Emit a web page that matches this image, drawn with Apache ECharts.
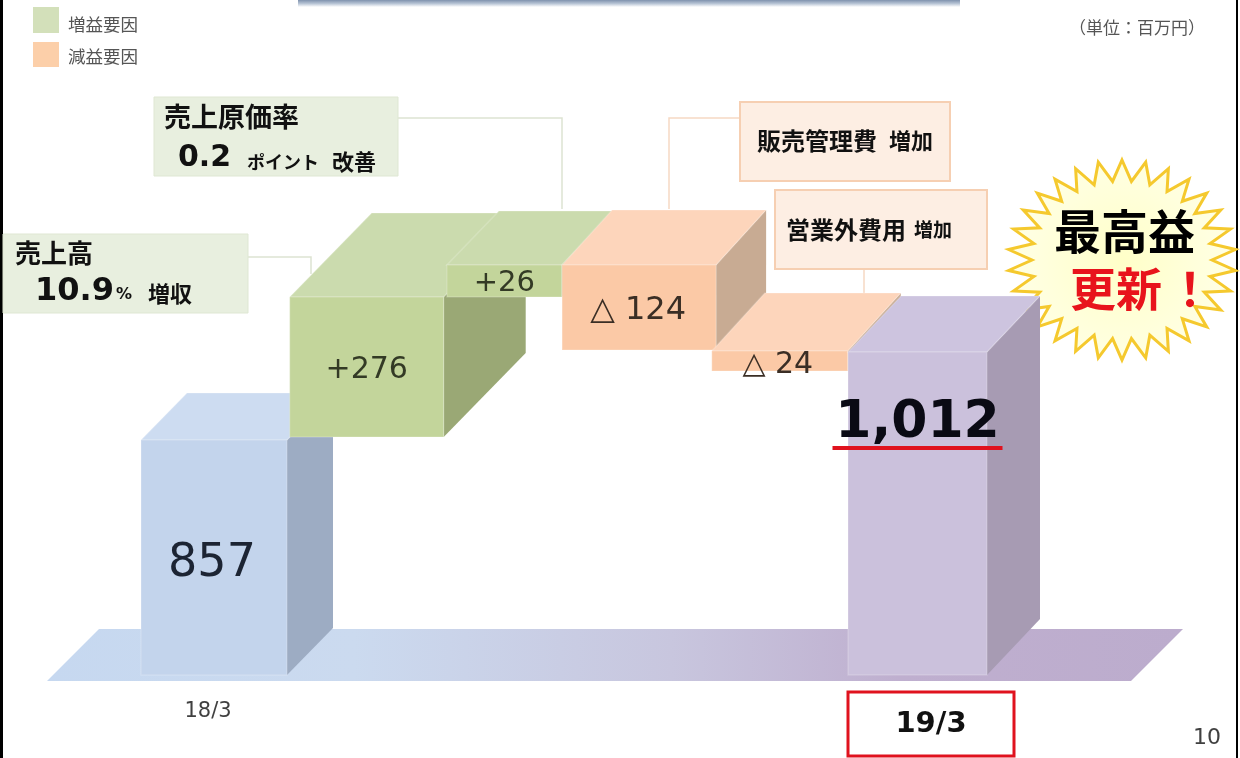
<!DOCTYPE html>
<html><head><meta charset="utf-8">
<style>html,body{margin:0;padding:0;background:#fff}#c{width:1240px;height:758px}</style>
<script src="https://cdn.jsdelivr.net/npm/echarts@6/dist/echarts.min.js"></script>
</head><body><div id="c"></div>
<script>
// ---- data ----
const categories = ['18/3', '売上高', '売上原価率', '販売管理費', '営業外費用', '19/3'];
const barLabels = ['857', '+276', '+26', '△ 124', '△ 24', '1,012'];
// The source slide is a schematic, not to scale: these are the bar extents as drawn, in drawn height units.
const barLow  = [0, 238, 378, 325, 304, 0];
const barHigh = [235, 378, 410, 410, 324, 323];
const kinds = ['start', 'up', 'up', 'down', 'down', 'end'];
const legendNames = ['増益要因', '減益要因'];

// ---- layout & style ----
const JP = '"Noto Sans CJK JP"', LAT = '"DejaVu Sans"';
const shapes = [
  {dx: 0,  w: 146, dpx: 46, dpy: 47, font: 46, weight: 'normal', ldx: -2, ly: 124, color: '#1c2433'},
  {dx: 12, w: 154, dpx: 82, dpy: 84, font: 30, weight: 'normal', ldx: 0,  ly: 73,  color: '#333a25'},
  {dx: 9,  w: 115, dpx: 52, dpy: 54, font: 29, weight: 'normal', ldx: 0,  ly: 18,  color: '#333a25'},
  {dx: 3,  w: 154, dpx: 50, dpy: 55, font: 32, weight: 'normal', ldx: -1, ly: 46,  color: '#3a2e25'},
  {dx: 3,  w: 136, dpx: 53, dpy: 58, font: 30, weight: 'normal', ldx: -2, ly: 14,  color: '#3a2e25'},
  {dx: 0,  w: 139, dpx: 53, dpy: 56, font: 52, weight: 'bold',   ldx: 0,  ly: 71,  color: '#0a0a14'}
];
const palette = {
  start: {front: '#c3d4ec', top: '#cddcf1', side: '#9dacc3'},
  up:    {front: '#c3d59b', top: '#cbdbae', side: '#9aa875'},
  down:  {front: '#fbc9a6', top: '#fdd5bb', side: '#c8ab93'},
  end:   {front: '#cbc1dc', top: '#cdc4df', side: '#a79bb3'}
};
const edge = {stroke: 'rgba(255,255,255,0.18)', lineWidth: 1.5};

function renderBar(params, api) {
  const i = api.value(0), s = shapes[i], c = palette[kinds[i]];
  const cx = api.coord([i, 0])[0] + s.dx;
  const yLow = api.coord([i, api.value(1)])[1], yHigh = api.coord([i, api.value(2)])[1];
  const l = cx - s.w / 2, r = cx + s.w / 2;
  const children = [
    {type: 'polygon', shape: {points: [[r, yHigh], [r + s.dpx, yHigh - s.dpy], [r + s.dpx, yLow - s.dpy], [r, yLow]]}, style: {fill: c.side}},
    {type: 'polygon', shape: {points: [[l, yHigh], [l + s.dpx, yHigh - s.dpy], [r + s.dpx, yHigh - s.dpy], [r, yHigh]]}, style: {fill: c.top, ...edge}},
    {type: 'rect', shape: {x: l, y: yHigh, width: s.w, height: yLow - yHigh}, style: {fill: c.front, ...edge}},
    {type: 'text', z2: 5, style: {x: cx + s.ldx, y: yHigh + s.ly, text: barLabels[i], align: 'center', verticalAlign: 'middle',
      font: s.weight + ' ' + s.font + 'px ' + LAT, fill: s.color}}
  ];
  if (i === 5) children.push({type: 'rect', z2: 6, shape: {x: cx - 85, y: yHigh + 94, width: 170, height: 4}, style: {fill: '#e0121e'}});
  return {type: 'group', children};
}
function renderFloor(params, api) {
  const y0 = api.coord([0, 0])[1];
  const front = y0 + 6, back = y0 - 46;
  return {type: 'polygon', shape: {points: [[47, front], [99, back], [1183, back], [1131, front]]},
    style: {fill: {type: 'linear', x: 0, y: 0, x2: 1, y2: 0, colorStops: [
      {offset: 0, color: '#c6d8f0'}, {offset: 0.27, color: '#cbdaef'}, {offset: 0.55, color: '#c8c6de'}, {offset: 0.75, color: '#bfafcf'}, {offset: 1, color: '#bcaccd'}]}}};
}

// ---- annotation helpers ----
const txt = (x, y, text, font, fill, align) => ({type: 'text', x, y, style: {text, font, fill: fill || '#111', align: align || 'left', verticalAlign: 'middle'}});
const box = (x, y, w, h, fill, stroke, lw) => ({type: 'rect', shape: {x, y, width: w, height: h}, style: {fill, stroke: stroke || null, lineWidth: lw || 0}});
const conn = (pts, stroke) => ({type: 'polyline', shape: {points: pts}, style: {stroke, lineWidth: 1.5, fill: null}});
function star(cx, cy, rx, ry, n, inner) {
  const pts = [];
  for (let k = 0; k < n * 2; k++) {
    const a = Math.PI * k / n - Math.PI / 2, f = k % 2 ? inner : 1;
    pts.push([cx + rx * f * Math.cos(a), cy + ry * f * Math.sin(a)]);
  }
  return pts;
}
const greenBox = '#e8efdf', greenEdge = '#dfe7d3', peachBox = '#fdeee3', peachEdge = '#f6cfb2', conG = '#dde3d2', conP = '#f6d9c3';

const annotations = [
  // frame + clipped title box
  box(0, 0, 3, 758, '#000'), box(1236, 0, 2, 758, '#000'),
  {type: 'rect', shape: {x: 298, y: 0, width: 662, height: 7}, style: {fill: {type: 'linear', x: 0, y: 0, x2: 0, y2: 1, colorStops: [
    {offset: 0, color: '#7f92ae'}, {offset: 0.5, color: '#b6c3d4'}, {offset: 1, color: '#ffffff'}]}}},
  // legend
  box(33, 7, 26, 26, '#d3e0ba'), txt(68, 24, legendNames[0], '17.5px ' + JP, '#555'),
  box(33, 42, 26, 25, '#fccfa9'), txt(68, 56, legendNames[1], '17.5px ' + JP, '#555'),
  txt(1069, 28, '（単位：百万円）', '17px ' + JP, '#555'),
  // connectors
  conn([[248, 257], [311, 257], [311, 274]], conG),
  conn([[398, 118], [562, 118], [562, 209]], conG),
  conn([[740, 118], [669, 118], [669, 209]], conP),
  conn([[864, 269], [864, 293]], conP),
  // callouts
  box(3, 234, 245, 79, greenBox, greenEdge, 1),
  txt(15, 253, '売上高', 'bold 26px ' + JP),
  txt(35, 292, '10.9', 'bold 32px ' + LAT),
  txt(116, 295, '%', 'bold 16px ' + LAT),
  txt(148, 294, '増収', 'bold 22px ' + JP),
  box(154, 97, 244, 79, greenBox, greenEdge, 1),
  txt(164, 117, '売上原価率', 'bold 27px ' + JP),
  txt(178, 158, '0.2', 'bold 30px ' + LAT),
  txt(247, 162, 'ポイント', 'bold 18px ' + JP),
  txt(332, 162, '改善', 'bold 22px ' + JP),
  box(740, 102, 210, 79, peachBox, peachEdge, 2),
  txt(757, 141, '販売管理費', 'bold 24px ' + JP),
  txt(889, 141, '増加', 'bold 22px ' + JP),
  box(775, 190, 212, 79, peachBox, peachEdge, 2),
  txt(786, 230, '営業外費用', 'bold 24px ' + JP),
  txt(914, 230, '増加', 'bold 19px ' + JP),
  // starburst
  {type: 'polygon', shape: {points: star(1122, 260, 114, 100, 30, 0.79)}, style: {
    fill: {type: 'radial', x: 0.5, y: 0.5, r: 0.6, colorStops: [{offset: 0, color: '#ffffc8'}, {offset: 1, color: '#ffffe8'}]},
    stroke: '#f5c92e', lineWidth: 3, lineJoin: 'miter'}},
  txt(1054, 231, '最高益', 'bold 47px ' + JP, '#000'),
  txt(1070, 289, '更新', 'bold 46px ' + JP, '#e8141c'),
  txt(1167, 289, '！', 'bold 46px ' + JP, '#e8141c'),
  // x-label highlight + page number
  box(848, 692, 166, 64, 'rgba(255,255,255,0)', '#e0121e', 3),
  txt(1221, 738, '10', '22px ' + LAT, '#404040', 'right')
];

const chart = echarts.init(document.getElementById('c'), null, {renderer: 'canvas'});
chart.setOption({
  animation: false,
  backgroundColor: '#fff',
  tooltip: {show: false},
  grid: {left: 143.65, width: 844.2, top: 0, bottom: 83},
  xAxis: {
    type: 'category', data: categories,
    axisLine: {show: false}, axisTick: {show: false},
    axisLabel: {
      show: true, interval: 0, margin: 27,
      formatter: (v) => v === categories[0] ? '{a|' + v + '}' : v === categories[5] ? '{b|' + v + '}' : '',
      rich: {
        a: {fontFamily: 'DejaVu Sans', fontSize: 21, color: '#404040', lineHeight: 20, padding: [0, 12, 0, 0]},
        b: {fontFamily: 'DejaVu Sans', fontSize: 29, fontWeight: 'bold', color: '#111', lineHeight: 44, padding: [0, 0, 0, 27]}
      }
    }
  },
  yAxis: {type: 'value', min: 0, max: 675, show: false},
  series: [
    {type: 'custom', z: 1, silent: true, renderItem: renderFloor, data: [[0]], encode: {x: 0}},
    {type: 'custom', z: 2, silent: true, renderItem: renderBar,
      data: categories.map((_, i) => [i, barLow[i], barHigh[i]]), encode: {x: 0, y: [1, 2]}}
  ],
  graphic: {z: 100, elements: annotations}
});
</script></body></html>
